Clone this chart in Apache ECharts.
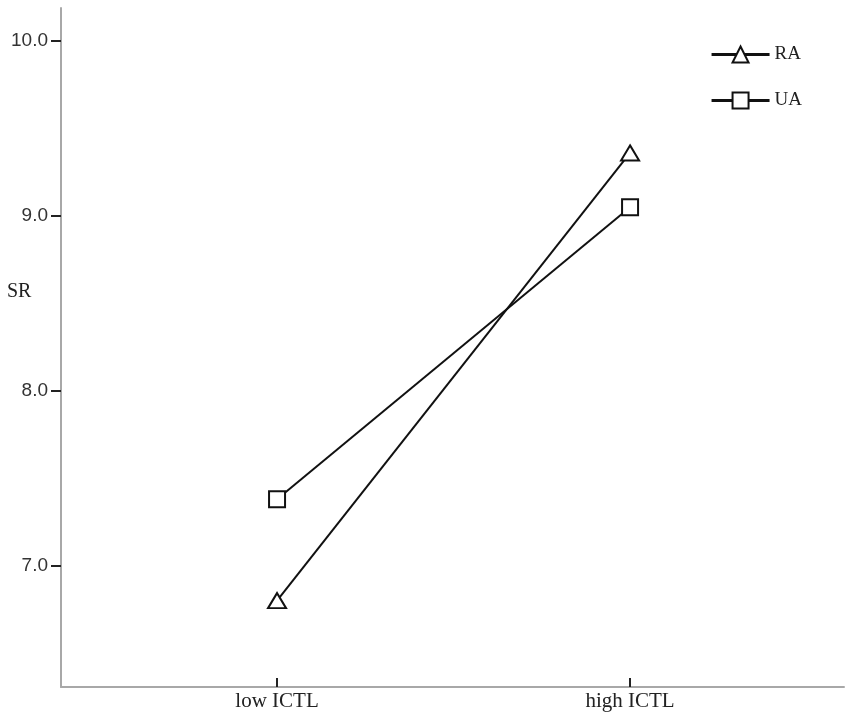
<!DOCTYPE html>
<html>
<head>
<meta charset="utf-8">
<script src="https://cdn.jsdelivr.net/npm/echarts@6/dist/echarts.min.js"></script>
<style>html,body{margin:0;padding:0;background:#fff;}#c{width:851px;height:721px;}</style>
</head>
<body>
<div id="c"></div>
<script>
const categories = ['low ICTL', 'high ICTL'];
const raValues = [6.80, 9.36];
const uaValues = [7.38, 9.05];
const yTicks = [7, 8, 9, 10];
const yTitle = 'SR';

const chart = echarts.init(document.getElementById('c'));
const serif = '"Liberation Serif", "Times New Roman", serif';
const sans = '"Liberation Sans", Arial, sans-serif';
const mk = (vals) => vals.map((v, i) => [i + 1, v]);
chart.setOption({
  animation: false,
  backgroundColor: '#fff',
  grid: { left: 61, right: 7, top: 8, bottom: 34, containLabel: false },
  graphic: [{ type: 'text', left: 7, top: 282, style: { text: yTitle, font: '20px ' + serif, fill: '#222' } }],
  legend: {
    right: 44, top: 40, orient: 'vertical', itemGap: 27,
    itemWidth: 58, itemHeight: 20,
    lineStyle: { width: 3 },
    textStyle: { fontFamily: serif, fontSize: 19, color: '#222' },
    data: ['RA', 'UA']
  },
  xAxis: {
    type: 'value', min: 0.388, max: 2.606,
    splitLine: { show: false },
    axisLine: { lineStyle: { color: '#a8a8a8', width: 2 } },
    axisTick: { show: true, inside: true, length: 9, customValues: [1, 2], lineStyle: { color: '#222', width: 2 } },
    axisLabel: { customValues: [1, 2], formatter: v => categories[Math.round(v) - 1] || '', fontFamily: serif, fontSize: 21, color: '#222', margin: 4 }
  },
  yAxis: {
    type: 'value', min: 6.306, max: 10.189,
    splitLine: { show: false },
    axisLine: { show: true, lineStyle: { color: '#a8a8a8', width: 2 } },
    axisTick: { show: true, length: 10, customValues: yTicks, lineStyle: { color: '#222', width: 2 } },
    axisLabel: { customValues: yTicks, formatter: v => v.toFixed(1), fontFamily: sans, fontSize: 19, color: '#333', margin: 13 }
  },
  series: [
    { name: 'RA', type: 'line', data: mk(raValues), symbol: 'triangle', symbolSize: [18, 15],
      lineStyle: { color: '#111', width: 2 }, itemStyle: { color: '#fff', borderColor: '#111', borderWidth: 2 } },
    { name: 'UA', type: 'line', data: mk(uaValues), symbol: 'rect', symbolSize: 16,
      lineStyle: { color: '#111', width: 2 }, itemStyle: { color: '#fff', borderColor: '#111', borderWidth: 2 } }
  ]
});
</script>
</body>
</html>
